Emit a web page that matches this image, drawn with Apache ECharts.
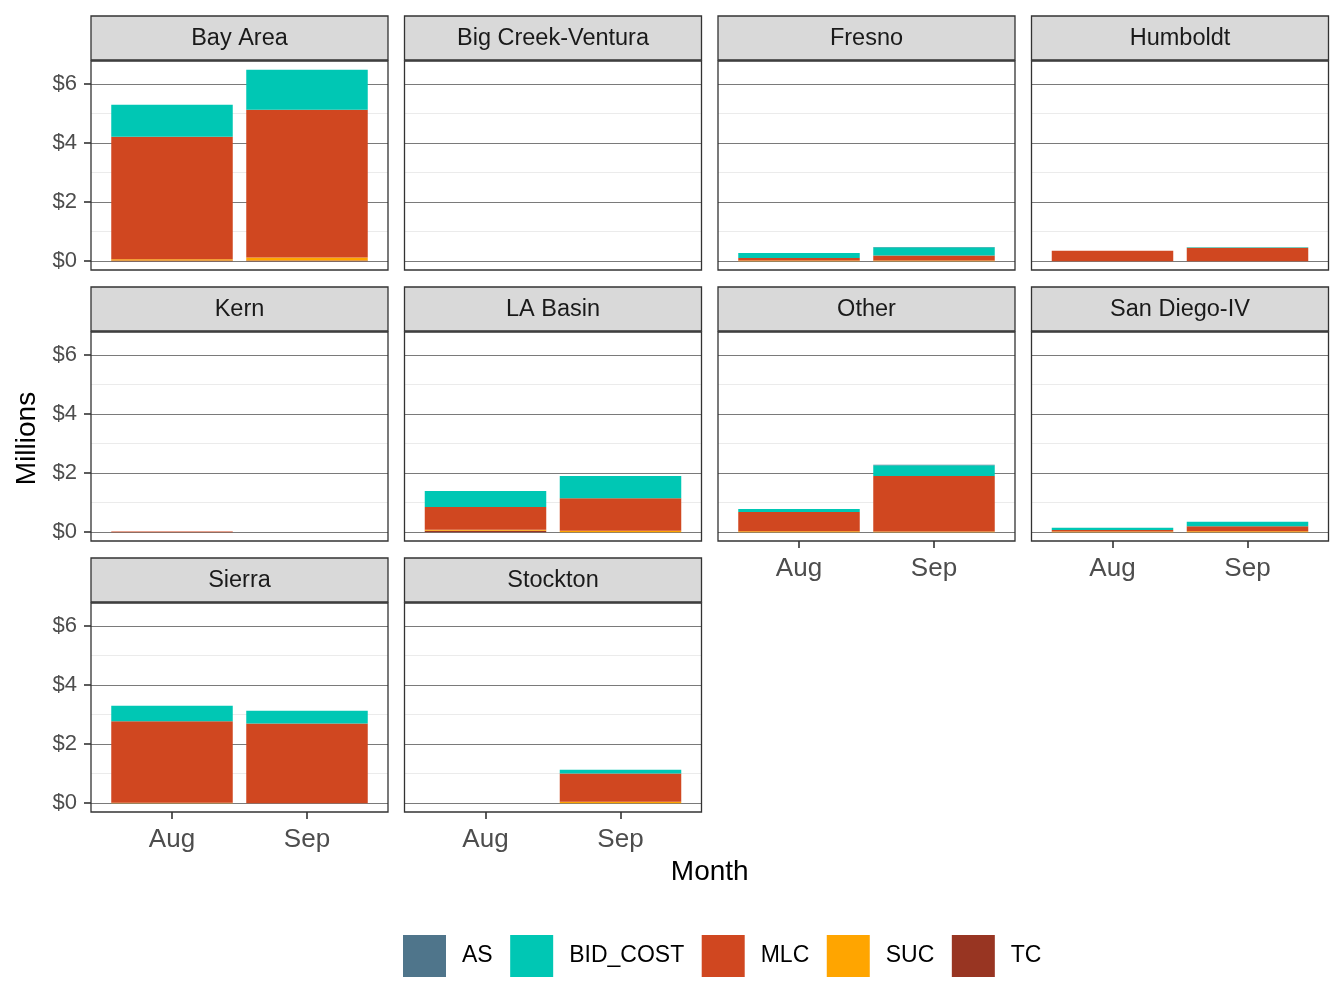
<!DOCTYPE html>
<html><head><meta charset="utf-8">
<script src="https://cdn.jsdelivr.net/npm/echarts@6/dist/echarts.min.js"></script>
<style>html,body{margin:0;padding:0;background:#fff}#c{width:1344px;height:1008px}</style>
</head><body><div id="c"></div>
<script>
// ---------- data ----------
const regions = ['Bay Area','Big Creek-Ventura','Fresno','Humboldt','Kern','LA Basin','Other','San Diego-IV','Sierra','Stockton'];
const months = ['Aug','Sep'];
const legendOrder = ['AS','BID_COST','MLC','SUC','TC'];
// values in $ millions, per region: [Aug, Sep]
const AS       = [[0,0],[0,0],[0,0.01],[0,0],[0,0],[0,0],[0,0.015],[0,0],[0,0],[0,0]];
const BID_COST = [[1.09,1.35],[0,0],[0.17,0.28],[0,0.02],[0,0],[0.54,0.75],[0.10,0.37],[0.08,0.15],[0.53,0.43],[0,0.13]];
const MLC      = [[4.15,5.01],[0,0],[0.09,0.17],[0.35,0.45],[0.02,0],[0.77,1.10],[0.65,1.88],[0.05,0.17],[2.76,2.70],[0,0.95]];
const SUC      = [[0.04,0.10],[0,0],[0.02,0.02],[0,0],[0,0],[0.03,0.05],[0.03,0.02],[0.02,0.03],[0.01,0],[0,0.05]];
const TC       = [[0.02,0.02],[0,0],[0,0],[0,0],[0,0],[0.05,0],[0,0],[0,0],[0,0],[0,0]];
const yTickStep = 2, yTickMax = 6;

const values = {AS, BID_COST, MLC, SUC, TC};
const colors = {AS:'#4f758b', BID_COST:'#00c7b4', MLC:'#d04720', SUC:'#ffa500', TC:'#983522'};
const stackOrder = ['TC','SUC','MLC','BID_COST','AS']; // bottom -> top

// ---------- layout ----------
const FONT = '"Liberation Sans", Arial, Helvetica, sans-serif';
const colLeft = [91, 404.5, 718, 1031.5];
const PW = 297;
const stripTop = [16, 287, 558];
const STRIP_H = 44, PLOT_OFF = 45, PH = 209;
const YMIN = -0.3, YMAX = 6.78;
const XEXP = 0.6, BARW = 0.9;
const ppu = PH / (YMAX - YMIN);
const unitPx = PW / (months.length - 1 + 2 * XEXP);

const grids = [], xAxes = [], yAxes = [], series = [], graphics = [];
const N = regions.length;

for (let i = 0; i < N; i++) {
  const col = i % 4, row = Math.floor(i / 4);
  const left = colLeft[col];
  const top = stripTop[row] + PLOT_OFF;
  const isBottom = i + 4 >= N;
  grids.push({left: left + (XEXP - 0.5) * unitPx, top: top, width: months.length * unitPx, height: PH});
  xAxes.push({
    type: 'category', gridIndex: i, data: months, show: isBottom,
    boundaryGap: true, position: 'bottom',
    axisLine: {show: false, onZero: false},
    axisTick: {show: isBottom, alignWithLabel: true, length: 7, lineStyle: {color: '#333', width: 1.6}},
    axisLabel: {show: isBottom, fontSize: 26, color: '#4d4d4d', margin: 15, fontFamily: FONT},
    splitLine: {show: false}
  });
  yAxes.push({type: 'value', gridIndex: i, min: YMIN, max: YMAX, show: false, splitLine: {show: false}});
  stackOrder.forEach(k => {
    series.push({
      type: 'bar', name: k, xAxisIndex: i, yAxisIndex: i, stack: 'p' + i,
      barWidth: (BARW * 100) + '%', data: values[k][i],
      itemStyle: {color: colors[k]}, silent: true, z: 3
    });
  });
}
// overlay grids for gridlines and y labels
for (let i = 0; i < N; i++) {
  const col = i % 4, row = Math.floor(i / 4);
  const left = colLeft[col];
  const top = stripTop[row] + PLOT_OFF;
  const zeroY = top + YMAX * ppu;
  const g = grids.length;
  grids.push({left: left, top: zeroY - yTickMax * ppu, width: PW, height: yTickMax * ppu});
  xAxes.push({type: 'value', gridIndex: g, min: 0, max: 1, show: false});
  const firstCol = col === 0;
  yAxes.push({
    type: 'value', gridIndex: g, min: 0, max: yTickMax, interval: yTickStep,
    axisLine: {show: false},
    axisTick: {show: firstCol, length: 7, lineStyle: {color: '#333', width: 1.6}},
    axisLabel: {show: firstCol, fontSize: 22, color: '#4d4d4d', margin: 14, fontFamily: FONT,
                formatter: v => '$' + v},
    splitLine: {show: true, lineStyle: {color: '#7a7a7a', width: 1}},
    minorTick: {show: false, splitNumber: 2},
    minorSplitLine: {show: true, lineStyle: {color: '#ebebeb', width: 1}}
  });
  // frame & strip
  graphics.push({type: 'rect', z: 100, silent: true,
    shape: {x: left, y: top, width: PW, height: PH},
    style: {fill: 'none', stroke: '#333', lineWidth: 1.3}});
  graphics.push({type: 'rect', z: 100, silent: true,
    shape: {x: left, y: stripTop[row], width: PW, height: STRIP_H},
    style: {fill: '#d9d9d9', stroke: '#333', lineWidth: 1.3}});
  graphics.push({type: 'text', z: 101, silent: true,
    x: left + PW / 2, y: stripTop[row] + STRIP_H / 2 + 1,
    style: {text: regions[i], fill: '#1a1a1a', font: '23.5px ' + FONT, textAlign: 'center', textVerticalAlign: 'middle'}});
}
// axis titles
const plotCenterX = (colLeft[0] + colLeft[3] + PW) / 2;
graphics.push({type: 'text', silent: true, x: plotCenterX, y: 872,
  style: {text: 'Month', fill: '#000', font: '28px ' + FONT, textAlign: 'center', textVerticalAlign: 'middle'}});
graphics.push({type: 'text', silent: true, x: 27, y: stripTop[1] + PLOT_OFF + PH / 2 + 2, rotation: Math.PI / 2,
  style: {text: 'Millions', fill: '#000', font: '28px ' + FONT, textAlign: 'center', textVerticalAlign: 'middle'}});

const chart = echarts.init(document.getElementById('c'), null, {renderer: 'canvas'});
chart.setOption({
  backgroundColor: '#fff',
  animation: false,
  grid: grids, xAxis: xAxes, yAxis: yAxes, series: series,
  legend: {
    data: legendOrder, left: 403, top: 935, padding: 0,
    icon: 'rect', itemWidth: 43, itemHeight: 42, itemGap: 17.5,
    selectedMode: false,
    textStyle: {fontSize: 23, color: '#000', fontFamily: FONT, padding: [0, 0, 0, 11]}
  },
  graphic: graphics
});
</script></body></html>
